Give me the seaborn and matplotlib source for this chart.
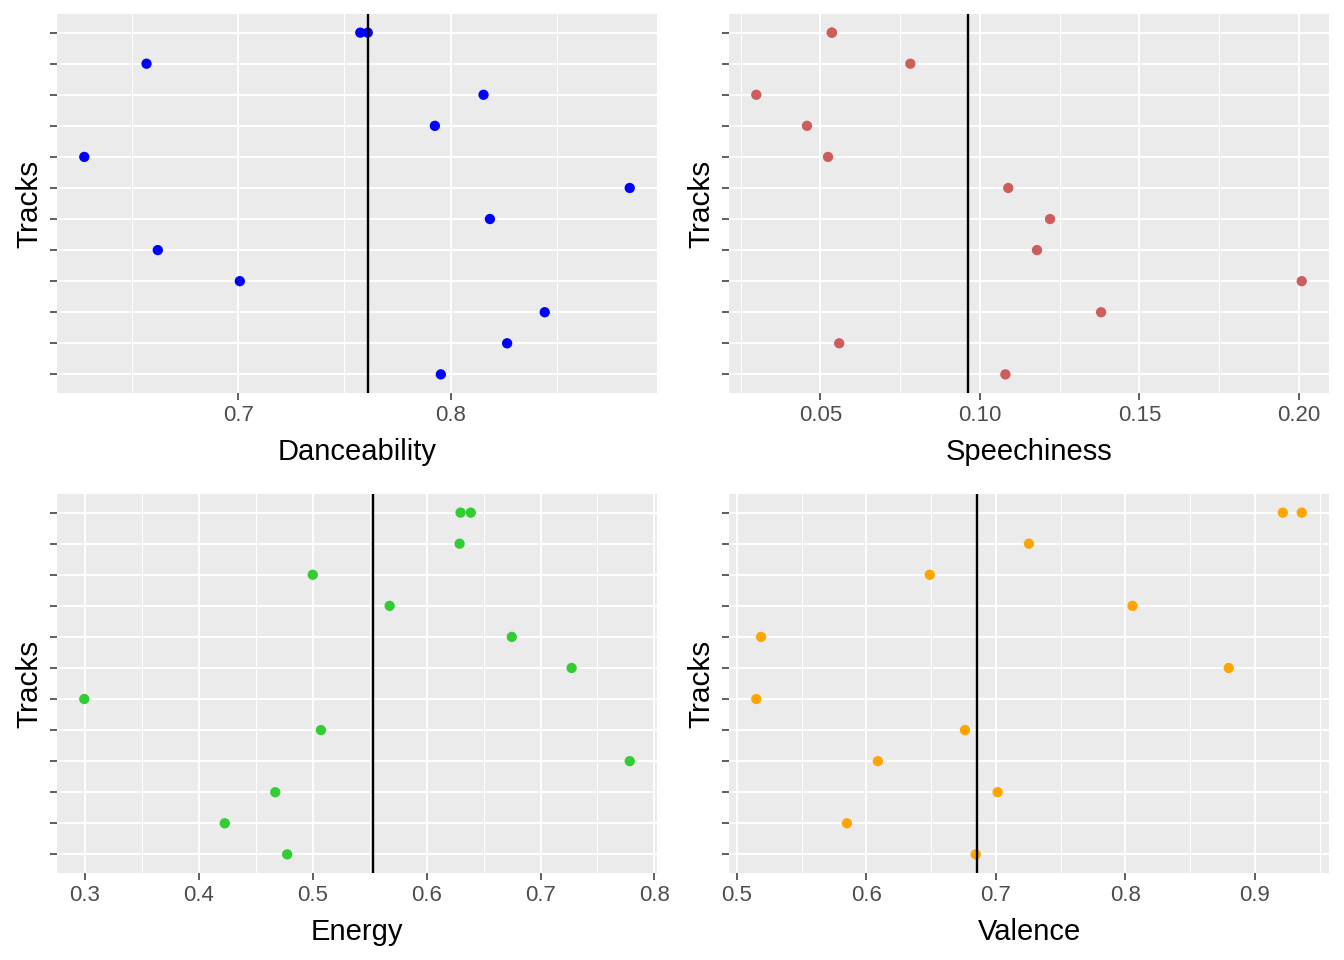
import numpy as np
import pandas as pd
import matplotlib
matplotlib.use("Agg")
import matplotlib.pyplot as plt
import seaborn as sns
from matplotlib.ticker import MultipleLocator, FormatStrFormatter

# ---- data ----
# 13 tracks, two of which share a name (they sit on the same top row)
tracks = ["Track 01", "Track 01", "Track 02", "Track 03", "Track 04", "Track 05",
          "Track 06", "Track 07", "Track 08", "Track 09", "Track 10", "Track 11", "Track 12"]
danceability = [0.7575, 0.7610, 0.6569, 0.8155, 0.7926, 0.6276, 0.8843,
                0.8185, 0.6622, 0.7008, 0.8443, 0.8266, 0.7954]
speechiness = [0.0536, 0.0536, 0.0782, 0.0299, 0.0458, 0.0524, 0.1089,
               0.1220, 0.1179, 0.2009, 0.1380, 0.0559, 0.1080]
energy = [0.6298, 0.6388, 0.6290, 0.5001, 0.5676, 0.6748, 0.7273,
          0.2996, 0.5073, 0.7783, 0.4672, 0.4229, 0.4777]
valence = [0.9216, 0.9362, 0.7255, 0.6489, 0.8055, 0.5186, 0.8798,
           0.5149, 0.6761, 0.6088, 0.7013, 0.5849, 0.6844]
# reference (vertical) lines
danceability_ref = 0.7612
speechiness_ref = 0.0964
energy_ref = 0.5530
valence_ref = 0.6851

df = pd.DataFrame({"Tracks": tracks, "Danceability": danceability,
                   "Speechiness": speechiness, "Energy": energy, "Valence": valence})

panels = [
    ("Danceability", "#0000FF", danceability_ref, 0.1, "%.1f"),
    ("Speechiness", "#CD5C5C", speechiness_ref, 0.05, "%.2f"),
    ("Energy", "#32CD32", energy_ref, 0.1, "%.1f"),
    ("Valence", "#FFA500", valence_ref, 0.1, "%.1f"),
]

W, H = 1344, 960
rects_px = [(57, 14, 657, 393), (729, 14, 1329, 393),
            (57, 494, 657, 873), (729, 494, 1329, 873)]

sns.set_theme(style="darkgrid")
plt.rcParams["font.family"] = ["Liberation Sans", "DejaVu Sans"]

fig = plt.figure(figsize=(W / 100, H / 100), dpi=100)
fig.patch.set_facecolor("white")

n_rows = len(dict.fromkeys(tracks))

for (col, color, ref, step, fmt), (x0, y0, x1, y1) in zip(panels, rects_px):
    ax = fig.add_axes([x0 / W, 1 - y1 / H, (x1 - x0) / W, (y1 - y0) / H])
    ax.set_facecolor("#EBEBEB")
    sns.scatterplot(data=df, x=col, y="Tracks", color=color, s=55,
                    edgecolor="none", linewidth=0, ax=ax, zorder=3)
    ax.axvline(ref, color="black", lw=1.7, zorder=4)

    vmin, vmax = df[col].min(), df[col].max()
    pad = (vmax - vmin) * 0.05
    ax.set_xlim(vmin - pad, vmax + pad)
    ax.set_ylim(n_rows - 1 + 0.6, -0.6)

    ax.xaxis.set_major_locator(MultipleLocator(step))
    ax.xaxis.set_minor_locator(MultipleLocator(step / 2))
    ax.xaxis.set_major_formatter(FormatStrFormatter(fmt))

    ax.grid(which="major", color="white", lw=1.4)
    ax.grid(which="minor", axis="x", color="white", lw=0.7)
    ax.set_axisbelow(True)
    for s in ax.spines.values():
        s.set_visible(False)

    ax.tick_params(axis="both", which="major", length=5, width=1.1, color="#333333",
                   labelsize=16, labelcolor="#4D4D4D", pad=3.5, bottom=True, left=True)
    ax.tick_params(axis="x", which="minor", length=0)
    ax.tick_params(axis="y", labelleft=False)

    ax.set_xlabel(col, fontsize=21, color="black", labelpad=8.5)
    ax.set_ylabel("Tracks", fontsize=21.5, color="black", labelpad=5)

fig.savefig("out.png", dpi=100, facecolor="white")
